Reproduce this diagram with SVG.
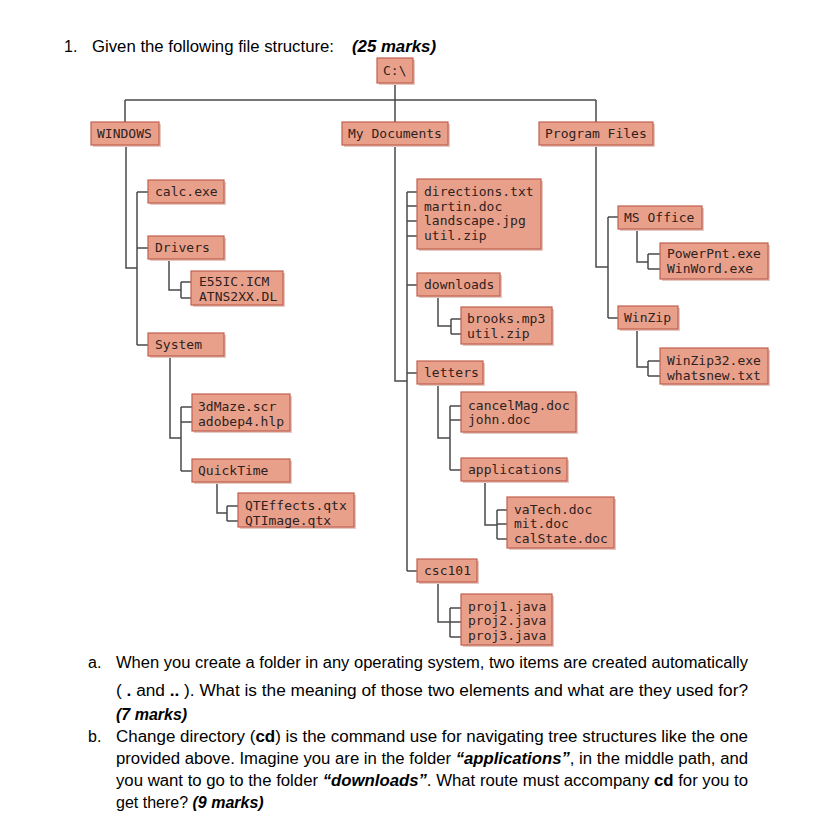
<svg xmlns="http://www.w3.org/2000/svg" width="817" height="817" viewBox="0 0 817 817">
<style>
.bg{fill:#ffffff}
.sh{fill:#e6c9c1}
.bx{fill:#e9a08b;stroke:#c0604f;stroke-width:1.2}
.t{font-family:"DejaVu Sans Mono","Liberation Mono",monospace;font-size:13px;fill:#2e2220}
.ln{fill:none;stroke:#4a4a4a;stroke-width:1.5}
.q{font-family:"Liberation Sans",Arial,sans-serif;font-size:16px;fill:#000}
.bi{font-weight:bold;font-style:italic}
.b{font-weight:bold}
</style>
<rect class="bg" x="0" y="0" width="817" height="817"/>

<text class="q" x="64" y="52" font-size="16.5">1.</text>
<text class="q" x="92" y="52" font-size="16.5" textLength="242" lengthAdjust="spacingAndGlyphs">Given the following file structure:</text>
<text class="q bi" x="352" y="52" font-size="16.5" textLength="84" lengthAdjust="spacingAndGlyphs">(25 marks)</text>

<g id="connectors">
<path class="ln" d="M395,83V100M125,100H596M125,100V122M395,100V122M596,100V122"/>
<path class="ln" d="M126,145V268H137M137,192V345M137,192H148M137,248H148M137,345H148"/>
<path class="ln" d="M169,260V290H181M181,282V298M181,282H191M181,298H191"/>
<path class="ln" d="M170,357V438H181M181,407V471M181,407H192M181,422H192M181,471H192"/>
<path class="ln" d="M217,483V513H227M227,506V521M227,506H238M227,521H238"/>
<path class="ln" d="M395,145V381H407M407,192V571M407,192H417M407,206H417M407,221H417M407,236H417M407,285H417M407,373H417M407,571H417"/>
<path class="ln" d="M438,297V326H451M451,319V334M451,319H461M451,334H461"/>
<path class="ln" d="M438,383V438H450M450,406V470M450,406H461M450,420H461M450,470H461"/>
<path class="ln" d="M485,482V525H497M497,510V539M497,510H507M497,524H507M497,539H507"/>
<path class="ln" d="M438,583V622H450M450,608V637M450,608H461M450,622H461M450,637H461"/>
<path class="ln" d="M596,145V267H608M608,217V318M608,217H618M608,318H618"/>
<path class="ln" d="M637,229V262H648M648,254V269M648,254H660M648,269H660"/>
<path class="ln" d="M637,330V367H648M648,361V376M648,361H660M648,376H660"/>
</g>

<g id="n-root"><rect class="sh" x="379" y="60" width="36" height="25"/><rect class="bx" x="377" y="58" width="36" height="25"/><text class="t" x="383" y="75">C:\</text></g>
<g id="n-windows"><rect class="sh" x="93" y="124" width="68" height="23"/><rect class="bx" x="91" y="122" width="68" height="23"/><text class="t" x="97" y="138">WINDOWS</text></g>
<g id="n-mydocs"><rect class="sh" x="344" y="124" width="106" height="23"/><rect class="bx" x="342" y="122" width="106" height="23"/><text class="t" x="348" y="138">My Documents</text></g>
<g id="n-progfiles"><rect class="sh" x="541" y="124" width="114" height="23"/><rect class="bx" x="539" y="122" width="114" height="23"/><text class="t" x="545" y="138">Program Files</text></g>

<g id="n-calc"><rect class="sh" x="150" y="182" width="76" height="23"/><rect class="bx" x="148" y="180" width="76" height="23"/><text class="t" x="155" y="196">calc.exe</text></g>
<g id="n-drivers"><rect class="sh" x="150" y="238" width="76" height="23"/><rect class="bx" x="148" y="236" width="76" height="23"/><text class="t" x="155" y="252">Drivers</text></g>
<g id="n-driverfiles"><rect class="sh" x="193" y="273" width="92" height="34"/><rect class="bx" x="191" y="271" width="92" height="34"/><text class="t" x="199" y="286">E55IC.ICM</text><text class="t" x="199" y="301">ATNS2XX.DL</text></g>
<g id="n-system"><rect class="sh" x="150" y="335" width="76" height="23"/><rect class="bx" x="148" y="333" width="76" height="23"/><text class="t" x="155" y="349">System</text></g>
<g id="n-sysfiles"><rect class="sh" x="194" y="396" width="98" height="37"/><rect class="bx" x="192" y="394" width="98" height="37"/><text class="t" x="198" y="411">3dMaze.scr</text><text class="t" x="198" y="426">adobep4.hlp</text></g>
<g id="n-quicktime"><rect class="sh" x="194" y="461" width="98" height="23"/><rect class="bx" x="192" y="459" width="98" height="23"/><text class="t" x="198" y="475">QuickTime</text></g>
<g id="n-qtfiles"><rect class="sh" x="240" y="495" width="116" height="34"/><rect class="bx" x="238" y="493" width="116" height="34"/><text class="t" x="245" y="510">QTEffects.qtx</text><text class="t" x="245" y="525">QTImage.qtx</text></g>

<g id="n-docfiles"><rect class="sh" x="419" y="181" width="124" height="70"/><rect class="bx" x="417" y="179" width="124" height="70"/><text class="t" x="424" y="196">directions.txt</text><text class="t" x="424" y="210.5">martin.doc</text><text class="t" x="424" y="225">landscape.jpg</text><text class="t" x="424" y="240">util.zip</text></g>
<g id="n-downloads"><rect class="sh" x="419" y="275" width="83" height="23"/><rect class="bx" x="417" y="273" width="83" height="23"/><text class="t" x="424" y="289">downloads</text></g>
<g id="n-dlfiles"><rect class="sh" x="463" y="309" width="91" height="37"/><rect class="bx" x="461" y="307" width="91" height="37"/><text class="t" x="467" y="323">brooks.mp3</text><text class="t" x="467" y="338">util.zip</text></g>
<g id="n-letters"><rect class="sh" x="419" y="363" width="66" height="23"/><rect class="bx" x="417" y="361" width="66" height="23"/><text class="t" x="424" y="377">letters</text></g>
<g id="n-letterfiles"><rect class="sh" x="463" y="394" width="115" height="40"/><rect class="bx" x="461" y="392" width="115" height="40"/><text class="t" x="468" y="410">cancelMag.doc</text><text class="t" x="468" y="424">john.doc</text></g>
<g id="n-applications"><rect class="sh" x="463" y="460" width="106" height="23"/><rect class="bx" x="461" y="458" width="106" height="23"/><text class="t" x="468" y="474">applications</text></g>
<g id="n-appfiles"><rect class="sh" x="509" y="499" width="107" height="51"/><rect class="bx" x="507" y="497" width="107" height="51"/><text class="t" x="514" y="514">vaTech.doc</text><text class="t" x="514" y="528">mit.doc</text><text class="t" x="514" y="543">calState.doc</text></g>
<g id="n-csc101"><rect class="sh" x="419" y="561" width="60" height="23"/><rect class="bx" x="417" y="559" width="60" height="23"/><text class="t" x="424" y="575">csc101</text></g>
<g id="n-projfiles"><rect class="sh" x="463" y="596" width="91" height="51"/><rect class="bx" x="461" y="594" width="91" height="51"/><text class="t" x="468" y="611">proj1.java</text><text class="t" x="468" y="625">proj2.java</text><text class="t" x="468" y="640">proj3.java</text></g>

<g id="n-msoffice"><rect class="sh" x="620" y="208" width="84" height="23"/><rect class="bx" x="618" y="206" width="84" height="23"/><text class="t" x="624" y="222">MS Office</text></g>
<g id="n-officefiles"><rect class="sh" x="662" y="245" width="108" height="36"/><rect class="bx" x="660" y="243" width="108" height="36"/><text class="t" x="667" y="258">PowerPnt.exe</text><text class="t" x="667" y="273">WinWord.exe</text></g>
<g id="n-winzip"><rect class="sh" x="620" y="308" width="60" height="23"/><rect class="bx" x="618" y="306" width="60" height="23"/><text class="t" x="624" y="322">WinZip</text></g>
<g id="n-winzipfiles"><rect class="sh" x="662" y="350" width="108" height="36"/><rect class="bx" x="660" y="348" width="108" height="36"/><text class="t" x="667" y="365">WinZip32.exe</text><text class="t" x="667" y="380">whatsnew.txt</text></g>

<text class="q" x="88" y="668">a.</text>
<text class="q" x="116" y="668" textLength="632" lengthAdjust="spacingAndGlyphs">When you create a folder in any operating system, two items are created automatically</text>
<text class="q" x="116" y="696" textLength="632" lengthAdjust="spacingAndGlyphs">( <tspan class="b">.</tspan> and <tspan class="b">..</tspan> ). What is the meaning of those two elements and what are they used for?</text>
<text class="q bi" x="116" y="720">(7 marks)</text>
<text class="q" x="88" y="742">b.</text>
<text class="q" x="116" y="742" textLength="632" lengthAdjust="spacingAndGlyphs">Change directory (<tspan class="b">cd</tspan>) is the command use for navigating tree structures like the one</text>
<text class="q" x="116" y="764" textLength="632" lengthAdjust="spacingAndGlyphs">provided above. Imagine you are in the folder <tspan class="bi">“applications”</tspan>, in the middle path, and</text>
<text class="q" x="116" y="786" textLength="632" lengthAdjust="spacingAndGlyphs">you want to go to the folder <tspan class="bi">“downloads”</tspan>. What route must accompany <tspan class="b">cd</tspan> for you to</text>
<text class="q" x="116" y="808">get there? <tspan class="bi">(9 marks)</tspan></text>
</svg>
